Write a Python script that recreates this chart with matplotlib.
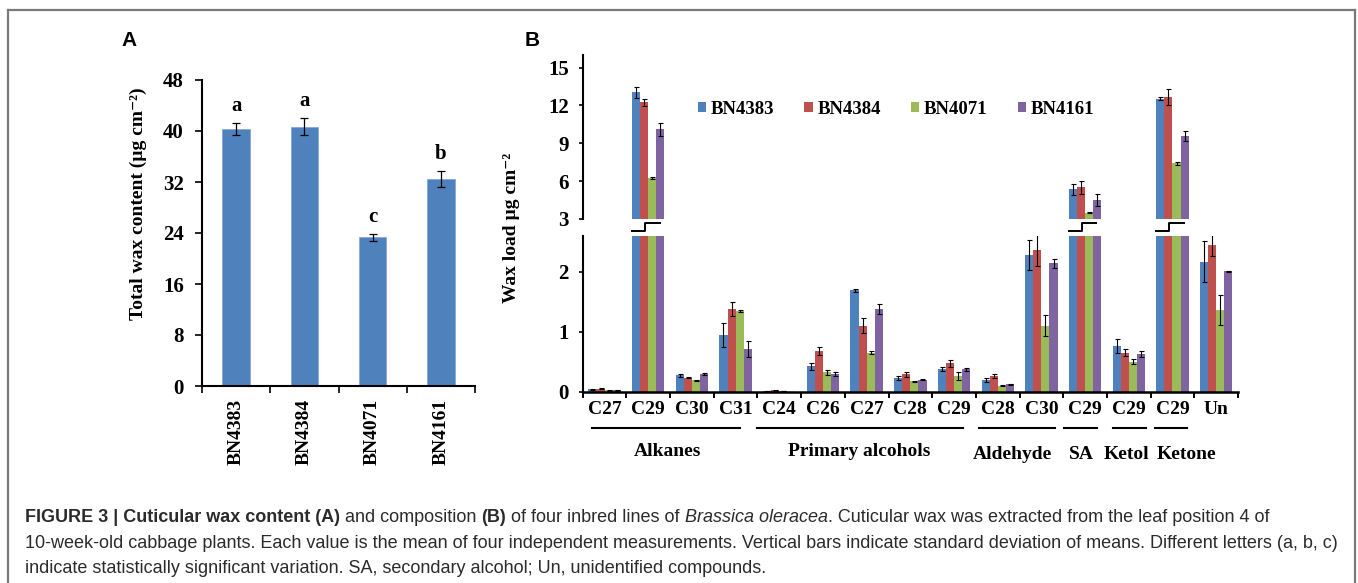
import numpy as np
import matplotlib
matplotlib.use('Agg')
import matplotlib.pyplot as plt
from matplotlib.lines import Line2D

# ---- data: panel A, total wax load ----
lines_a = ['BN4383', 'BN4384', 'BN4071', 'BN4161']
total_wax = [40.25, 40.7, 23.3, 32.5]
total_sd = [0.95, 1.4, 0.6, 1.3]
letters = ['a', 'a', 'c', 'b']

# ---- data: panel B, wax composition ----
compounds = ['C27', 'C29', 'C30', 'C31', 'C24', 'C26', 'C27', 'C28', 'C29',
             'C28', 'C30', 'C29', 'C29', 'C29', 'Un']
bn4383 = [0.04, 13.05, 0.27, 0.95, 0.01, 0.42, 1.69, 0.23, 0.38, 0.19, 2.28, 5.35, 0.76, 12.55, 2.17]
bn4383_sd = [0.01, 0.45, 0.02, 0.20, 0.005, 0.06, 0.03, 0.03, 0.03, 0.03, 0.25, 0.45, 0.11, 0.15, 0.34]
bn4384 = [0.05, 12.25, 0.23, 1.38, 0.02, 0.68, 1.10, 0.29, 0.47, 0.26, 2.36, 5.50, 0.65, 12.65, 2.44]
bn4384_sd = [0.01, 0.30, 0.01, 0.11, 0.005, 0.07, 0.12, 0.04, 0.06, 0.03, 0.26, 0.55, 0.06, 0.65, 0.18]
bn4071 = [0.02, 6.25, 0.19, 1.35, 0.01, 0.32, 0.65, 0.17, 0.26, 0.10, 1.10, 3.50, 0.50, 7.40, 1.37]
bn4071_sd = [0.005, 0.10, 0.01, 0.02, 0.005, 0.04, 0.02, 0.01, 0.06, 0.01, 0.18, 0.05, 0.04, 0.08, 0.25]
bn4161 = [0.02, 10.10, 0.29, 0.71, 0.0, 0.29, 1.38, 0.20, 0.37, 0.12, 2.14, 4.50, 0.62, 9.55, 2.01]
bn4161_sd = [0.005, 0.50, 0.02, 0.13, 0.0, 0.03, 0.08, 0.01, 0.03, 0.01, 0.07, 0.50, 0.05, 0.40, 0.01]

groups = ['Alkanes', 'Primary alcohols', 'Aldehyde', 'SA', 'Ketol', 'Ketone']
group_spans = [(-0.28, 3.11), (3.48, 8.2), (8.56, 10.31), (10.52, 11.28), (11.63, 12.39), (12.61, 13.33)]
group_label_x = [1.44, 5.83, 9.33, 10.92, 11.94, 13.33]
broken = [1, 11, 13]  # bars that run past the axis break

colors = ['#4F81BD', '#C0504D', '#9BBB59', '#8064A2']

W, H = 1358, 583
fig = plt.figure(figsize=(W / 100, H / 100), dpi=100)
SERIF = ['Liberation Serif', 'DejaVu Serif']
SANS = ['Liberation Sans', 'DejaVu Sans']
plt.rcParams['font.family'] = SERIF
plt.rcParams['font.weight'] = 'bold'
plt.rcParams['axes.labelweight'] = 'bold'


def fx(px):
    return px / W


def fy(py):
    return 1 - py / H


# figure frame (grey, open at the bottom)
for xs, ys in [([8, 8], [583, 10]), ([8, 1355], [10, 10]), ([1355, 1355], [10, 583])]:
    fig.add_artist(Line2D([fx(v) for v in xs], [fy(v) for v in ys], color='#7a7a7a', lw=1.6))

# ---------------- panel A ----------------
axA = fig.add_axes([fx(202), fy(386), fx(475) - fx(202), fy(80) - fy(386)])
xa = np.arange(len(lines_a))
axA.bar(xa, total_wax, width=0.4, color='#4F81BD', edgecolor='#86a9d6', linewidth=0.6)
axA.errorbar(xa, total_wax, yerr=total_sd, fmt='none', ecolor='black',
             elinewidth=0.9, capsize=3, capthick=0.9)
for i, let in enumerate(letters):
    axA.annotate(let, (xa[i], total_wax[i] + total_sd[i]), xytext=(0, 5),
                 textcoords='offset points', ha='center', va='bottom', fontsize=15)
axA.set_xlim(-0.5, 3.5)
axA.set_ylim(0, 48)
axA.set_yticks(np.arange(0, 49, 8))
axA.set_xticks(np.arange(-0.5, 4, 1))
axA.set_xticklabels([])
axA.set_xticks(xa, minor=True)
axA.set_xticklabels(lines_a, minor=True, rotation=90, fontsize=14)
axA.tick_params(axis='x', which='minor', length=0, pad=9)
axA.tick_params(axis='both', which='major', length=5, width=1.2, direction='out')
axA.tick_params(axis='y', labelsize=15, pad=8)
for s in ['top', 'right']:
    axA.spines[s].set_visible(False)
for s in ['left', 'bottom']:
    axA.spines[s].set_linewidth(1.5)
axA.set_ylabel('Total wax content (µg cm⁻²)', fontsize=14, fontweight='bold', va='center')
axA.yaxis.set_label_coords(-0.234, 0.596)

# ---------------- panel B (broken y axis) ----------------
left, right = 582.7, 1238
axU = fig.add_axes([fx(left), fy(219), fx(right) - fx(left), fy(55) - fy(219)])
axL = fig.add_axes([fx(left), fy(391.7), fx(right) - fx(left), fy(235.7) - fy(391.7)])

xb = np.arange(len(compounds))
bw = 0.185
series = [('BN4383', bn4383, bn4383_sd), ('BN4384', bn4384, bn4384_sd),
          ('BN4071', bn4071, bn4071_sd), ('BN4161', bn4161, bn4161_sd)]
handles = []
for k, (name, vals, sd) in enumerate(series):
    pos = xb + (k - 1.5) * bw
    for ax in (axU, axL):
        b = ax.bar(pos, vals, width=bw, color=colors[k], linewidth=0, label=name)
        ax.errorbar(pos, vals, yerr=sd, fmt='none', ecolor='black',
                    elinewidth=0.8, capsize=1.8, capthick=0.8)
    handles.append(b)

axU.set_ylim(3, 16)
axU.set_yticks([3, 6, 9, 12, 15])
axL.set_ylim(0, 2.6)
axL.set_yticks([0, 1, 2])
for ax in (axU, axL):
    ax.set_xlim(-0.5, len(compounds) - 0.5)
    ax.tick_params(axis='y', length=3, width=1.2, labelsize=15, pad=7)
    for s in ['top', 'right']:
        ax.spines[s].set_visible(False)
    ax.spines['left'].set_linewidth(1.5)
axU.spines['bottom'].set_visible(False)
axU.set_xticks([])
axL.spines['bottom'].set_linewidth(1.8)
axL.set_xticks(np.arange(-0.5, len(compounds), 1))
axL.set_xticklabels([])
axL.tick_params(axis='x', which='major', length=4, width=1.4, direction='out')
axL.set_xticks(xb, minor=True)
axL.set_xticklabels(compounds, minor=True, fontsize=14)
axL.tick_params(axis='x', which='minor', length=0, pad=7)

# break marks above the cut bars
for i in broken:
    axL.plot([i - 0.37, i - 0.07, i - 0.07, i + 0.26], [2.68, 2.68, 2.81, 2.81],
             color='black', lw=1.4, clip_on=False)

# group underlines and names
tr = axL.get_xaxis_transform()
for g, (a, b), gx in zip(groups, group_spans, group_label_x):
    axL.plot([a, b], [-0.232, -0.232], color='black', lw=1.5, transform=tr, clip_on=False)
    gy = -0.386 if g in ('Alkanes', 'Primary alcohols') else -0.404
    axL.text(gx, gy, g, transform=tr, ha='center', va='center', fontsize=14)

axU.legend(handles=handles, loc='center', bbox_to_anchor=(0.478, 0.67), ncol=4,
           frameon=False, fontsize=13.5, handlelength=0.45, handleheight=0.45,
           handletextpad=0.25, columnspacing=1.6)

fig.text(fx(511), fy(228), 'Wax load µg cm⁻²', rotation=90, ha='center', va='center', fontsize=14)

# panel letters
fig.text(fx(129), fy(41), 'A', family=SANS, fontsize=15, fontweight='bold', ha='center', va='center')
fig.text(fx(532), fy(41), 'B', family=SANS, fontsize=15, fontweight='bold', ha='center', va='center')

# ---------------- caption ----------------
renderer = fig.canvas.get_renderer()
cap_color = '#2b2b2b'


def seg_width(s, fs, weight, style):
    t1 = fig.text(0, 0, s + '|', family=SANS, fontsize=fs, fontweight=weight, fontstyle=style)
    t2 = fig.text(0, 0, '|', family=SANS, fontsize=fs, fontweight=weight, fontstyle=style)
    w = t1.get_window_extent(renderer).width - t2.get_window_extent(renderer).width
    t1.remove()
    t2.remove()
    return w


cap_lines = [
    [('FIGURE 3 | Cuticular wax content (A)', 'bold', 'normal'),
     (' and composition ', 'normal', 'normal'),
     ('(B)', 'bold', 'normal'),
     (' of four inbred lines of ', 'normal', 'normal'),
     ('Brassica oleracea', 'normal', 'italic'),
     ('. Cuticular wax was extracted from the leaf position 4 of', 'normal', 'normal')],
    [('10-week-old cabbage plants. Each value is the mean of four independent measurements. '
      'Vertical bars indicate standard deviation of means. Different letters (a, b, c)', 'normal', 'normal')],
    [('indicate statistically significant variation. SA, secondary alcohol; Un, unidentified compounds.',
      'normal', 'normal')],
]
w_ref = seg_width(cap_lines[1][0][0], 11, 'normal', 'normal')
cap_fs = 11 * 1307 / w_ref
for segs, base in zip(cap_lines, [522, 548, 573]):
    x = 25
    for txt, weight, style in segs:
        fig.text(fx(x), fy(base), txt, family=SANS, fontsize=cap_fs, fontweight=weight,
                 fontstyle=style, color=cap_color, ha='left', va='baseline')
        x += seg_width(txt, cap_fs, weight, style)

fig.savefig('out.png', dpi=100)
